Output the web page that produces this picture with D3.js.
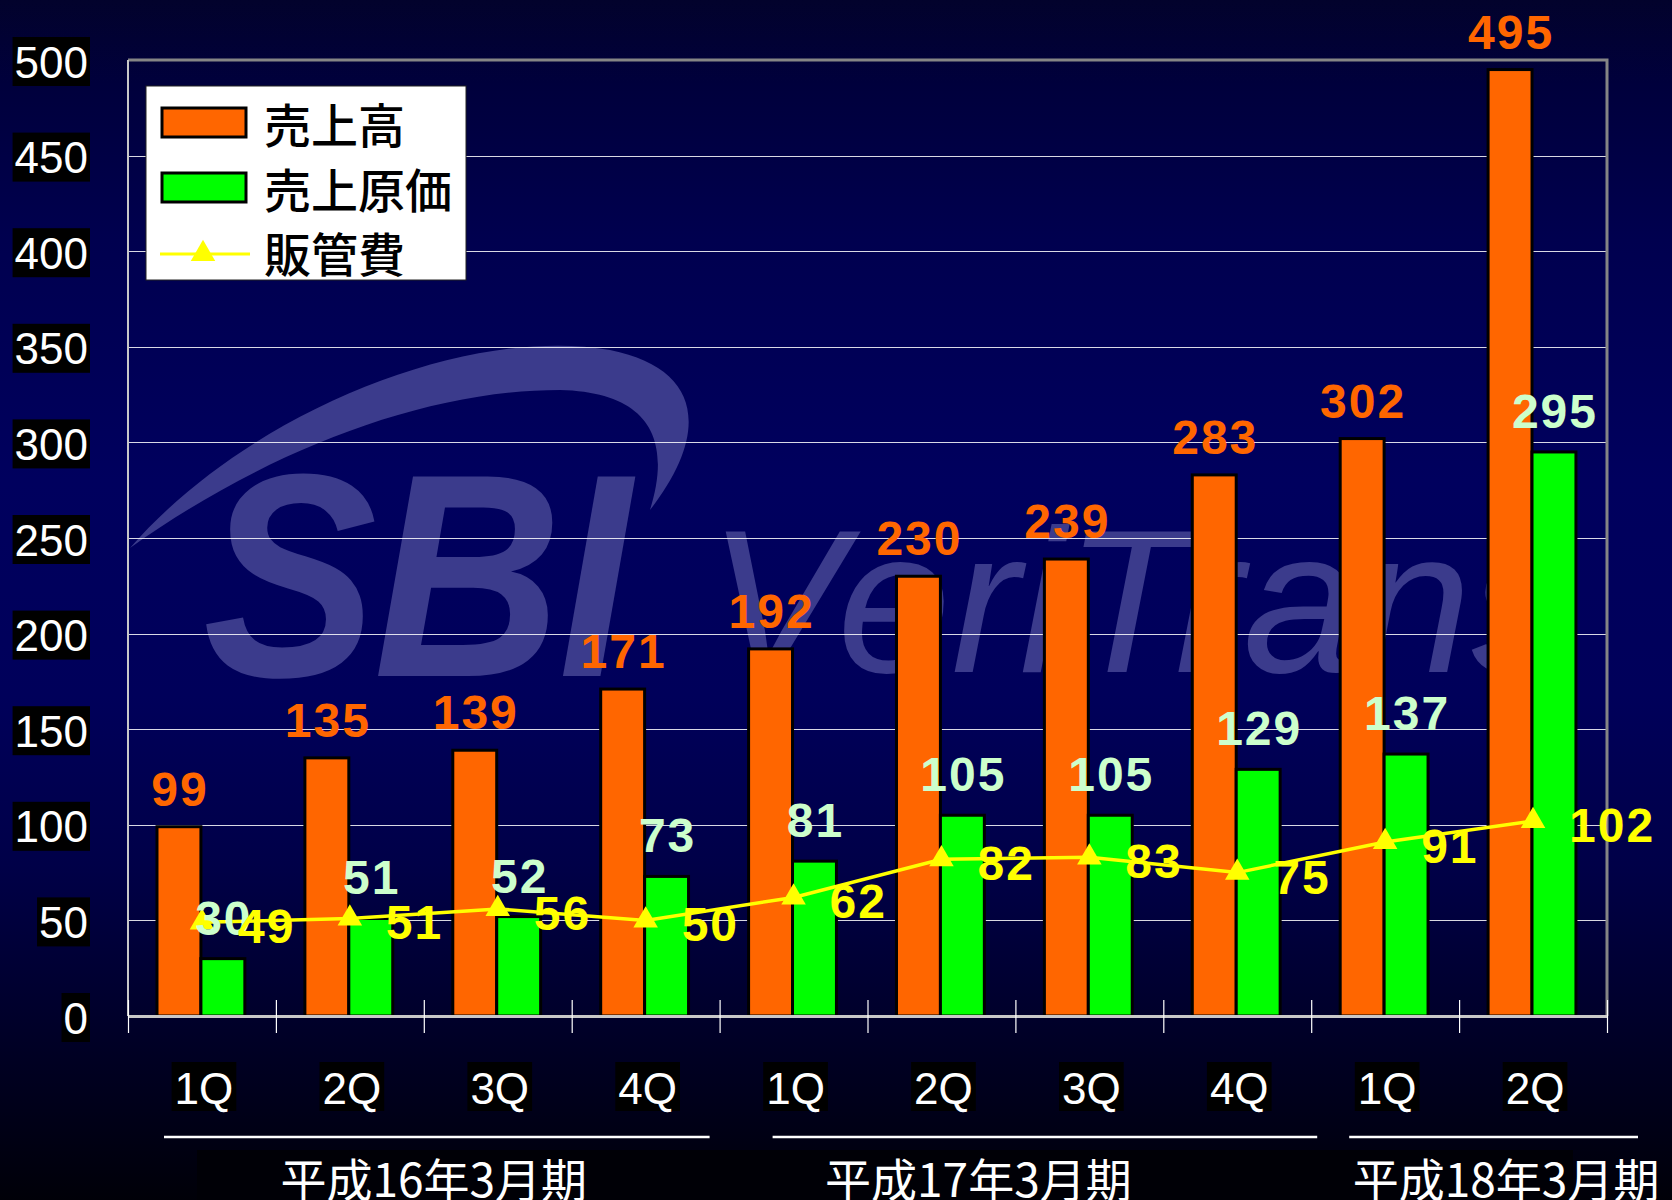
<!DOCTYPE html>
<html>
<head>
<meta charset="utf-8">
<script src="https://cdn.jsdelivr.net/npm/d3@7"></script>
<style>
  html, body { margin: 0; padding: 0; background: #000; }
  svg { display: block; }
</style>
</head>
<body>
<svg id="chart" width="1672" height="1200"></svg>
<script>
// ---------------- data ----------------
const quarters = ["1Q", "2Q", "3Q", "4Q", "1Q", "2Q", "3Q", "4Q", "1Q", "2Q"];
const sales = [99, 135, 139, 171, 192, 230, 239, 283, 302, 495];       // 売上高
const costOfSales = [30, 51, 52, 73, 81, 105, 105, 129, 137, 295];   // 売上原価
const sgaExpenses = [49, 51, 56, 50, 62, 82, 83, 75, 91, 102];        // 販管費
const periods = ["平成16年3月期", "平成17年3月期", "平成18年3月期"];
const periodFirst = [0, 4, 8];
const periodLast = [3, 7, 9];
const yTicks = [0, 50, 100, 150, 200, 250, 300, 350, 400, 450, 500];
const seriesNames = ["売上高", "売上原価", "販管費"];

// ---------------- layout ----------------
const W = 1672, H = 1200;
const plot = { left: 128, right: 1607, top: 60, bottom: 1016 };
const colors = { sales: "#ff6600", cost: "#00ff00", sga: "#ffff00", costLabel: "#ccffcc" };
const numFont = "'Liberation Sans', Arial, sans-serif";
const cjkFont = "'Noto Sans CJK JP', 'Noto Sans CJK SC', sans-serif";

const svg = d3.select("#chart");
const defs = svg.append("defs");

// background gradient
const bg = defs.append("linearGradient").attr("id", "bg").attr("x1", 0).attr("y1", 0).attr("x2", 0).attr("y2", 1);
[[0, "#02022c"], [0.07, "#00003c"], [0.2, "#00004f"], [0.4, "#00005e"], [0.58, "#00005a"],
 [0.72, "#000048"], [0.85, "#00002a"], [1, "#000008"]].forEach(([o, c]) =>
  bg.append("stop").attr("offset", o).attr("stop-color", c));
svg.append("rect").attr("width", W).attr("height", H).attr("fill", "url(#bg)");

// scales
const idx = d3.range(quarters.length);
const x = d3.scaleBand().domain(idx).range([plot.left, plot.right]).padding(0);
const bw = x.bandwidth();
const inner = d3.scaleBand().domain(["sales", "cost"]).range([bw * 0.196, bw * 0.79]).padding(0);
const y = d3.scaleLinear().domain([0, 500]).range([plot.bottom, plot.top]);

// ---------------- watermark ----------------
defs.append("clipPath").attr("id", "wmclip").append("rect")
  .attr("x", 0).attr("y", 0).attr("width", 1487).attr("height", H);
const wm = svg.append("g").attr("clip-path", "url(#wmclip)").attr("fill", "#3b3b8c");
wm.append("path")
  .attr("d", "M130,548 C250,410 470,325 610,350 C700,368 712,430 650,510 C672,440 650,392 560,390 C420,390 260,455 130,548 Z");
wm.append("text").attr("transform", "translate(203,676) scale(0.9,1)")
  .attr("font-family", numFont).attr("font-weight", "bold").attr("font-style", "italic")
  .attr("font-size", 290).attr("letter-spacing", -4).text("SBI");
wm.append("text").attr("x", 708).attr("y", 672)
  .attr("font-family", numFont).attr("font-style", "italic")
  .attr("font-size", 205).text("VeriTrans");

// ---------------- gridlines ----------------
svg.append("g").selectAll("line").data(yTicks.filter(t => t > 0 && t < 500)).join("line")
  .attr("x1", plot.left).attr("x2", plot.right)
  .attr("y1", d => Math.round(y(d)) + 0.5).attr("y2", d => Math.round(y(d)) + 0.5)
  .attr("stroke", "#ffffff").attr("stroke-opacity", 0.85).attr("stroke-width", 1.2);

// plot frame (top/right gray)
svg.append("path")
  .attr("d", `M${plot.left},${plot.top} H${plot.right} V${plot.bottom}`)
  .attr("fill", "none").attr("stroke", "#858585").attr("stroke-width", 3);

// ---------------- bars ----------------
const barG = svg.append("g");
barG.selectAll("rect.sales").data(sales).join("rect").attr("class", "sales")
  .attr("x", (d, i) => x(i) + inner("sales")).attr("width", inner.bandwidth())
  .attr("y", d => y(d)).attr("height", d => y(0) - y(d))
  .attr("fill", colors.sales).attr("stroke", "#000").attr("stroke-width", 3);
barG.selectAll("rect.cost").data(costOfSales).join("rect").attr("class", "cost")
  .attr("x", (d, i) => x(i) + inner("cost")).attr("width", inner.bandwidth())
  .attr("y", d => y(d)).attr("height", d => y(0) - y(d))
  .attr("fill", colors.cost).attr("stroke", "#000").attr("stroke-width", 3);

// ---------------- axes ----------------
svg.append("line").attr("x1", plot.left).attr("x2", plot.left).attr("y1", plot.top).attr("y2", plot.bottom)
  .attr("stroke", "#c8c8c8").attr("stroke-width", 2);
const boundary = d3.scaleLinear().domain([0, quarters.length]).range([plot.left, plot.right]);
const xAxis = svg.append("g").attr("transform", `translate(0,${plot.bottom})`)
  .call(d3.axisBottom(boundary).tickValues(d3.range(quarters.length + 1)).tickSize(17).tickSizeOuter(0).tickFormat(""));
xAxis.select(".domain").attr("stroke", "#c8c8c8").attr("stroke-width", 3);
xAxis.selectAll(".tick line").attr("stroke", "#ffffff").attr("stroke-width", 1.2).attr("y1", -16);

// y tick labels on black boxes
const yLab = svg.append("g");
yTicks.forEach(t => {
  const g = yLab.append("g");
  const txt = g.append("text").attr("x", 88).attr("y", y(t) + 2)
    .attr("text-anchor", "end").attr("dominant-baseline", "central")
    .attr("font-family", numFont).attr("font-size", 44).attr("fill", "#fff").text(t);
  const bb = txt.node().getBBox();
  g.insert("rect", "text").attr("x", bb.x - 2).attr("y", y(t) - 23).attr("width", bb.width + 4).attr("height", 49).attr("fill", "#000");
});

// x category labels on black boxes
const xLab = svg.append("g");
quarters.forEach((q, i) => {
  const cx = x(i) + bw / 2 + 2;
  const g = xLab.append("g");
  const txt = g.append("text").attr("x", cx).attr("y", 1088)
    .attr("text-anchor", "middle").attr("dominant-baseline", "central")
    .attr("font-family", numFont).attr("font-size", 44).attr("fill", "#fff").text(q);
  const bb = txt.node().getBBox();
  g.insert("rect", "text").attr("x", bb.x - 3).attr("y", 1062).attr("width", bb.width + 6).attr("height", 49).attr("fill", "#000");
});

// period grouping lines and labels
const lineAdj = [[36, -10], [53, 6], [38, 31]];
const labelAdj = [10, -37, 47];
svg.append("rect").attr("x", 197).attr("y", 1150).attr("width", 1376).attr("height", 50).attr("fill", "#000006");
periods.forEach((p, k) => {
  const x0 = x(periodFirst[k]), x1 = x(periodLast[k]) + bw;
  svg.append("line").attr("x1", x0 + lineAdj[k][0]).attr("x2", x1 + lineAdj[k][1])
    .attr("y1", 1137).attr("y2", 1137).attr("stroke", "#fff").attr("stroke-width", 2.5);
  svg.append("text").attr("x", (x0 + x1) / 2 + labelAdj[k]).attr("y", 1197)
    .attr("text-anchor", "middle").attr("font-family", cjkFont).attr("font-size", 46)
    .attr("fill", "#fff").text(p);
});

// ---------------- SG&A line ----------------
const cx = i => x(i) + bw / 2;
svg.append("path").datum(sgaExpenses)
  .attr("d", d3.line().x((d, i) => cx(i)).y(d => y(d)))
  .attr("fill", "none").attr("stroke", colors.sga).attr("stroke-width", 3.5);
const tri = d3.symbol().type(d3.symbolTriangle).size(260);
svg.append("g").selectAll("path").data(sgaExpenses).join("path")
  .attr("d", tri).attr("transform", (d, i) => `translate(${cx(i)},${y(d)})`)
  .attr("fill", colors.sga);

// ---------------- value labels ----------------
const labelFont = g => g.attr("font-family", numFont).attr("font-size", 48).attr("font-weight", "bold").attr("letter-spacing", 2);
svg.append("g").call(labelFont).selectAll("text").data(sales).join("text")
  .attr("x", (d, i) => x(i) + inner("sales") + inner.bandwidth() / 2 + 1)
  .attr("y", d => y(d) - 21).attr("text-anchor", "middle").attr("fill", colors.sales).text(d => d);
svg.append("g").call(labelFont).selectAll("text").data(costOfSales).join("text")
  .attr("x", (d, i) => x(i) + inner("cost") + inner.bandwidth() / 2 + 1)
  .attr("y", d => y(d) - 24).attr("text-anchor", "middle").attr("fill", colors.costLabel).text(d => d);
svg.append("g").call(labelFont).selectAll("text").data(sgaExpenses).join("text")
  .attr("x", (d, i) => cx(i) + 36)
  .attr("y", d => y(d) + 21).attr("text-anchor", "start").attr("fill", colors.sga).text(d => d);

// ---------------- legend ----------------
const lg = svg.append("g");
lg.append("rect").attr("x", 146).attr("y", 86).attr("width", 320).attr("height", 194)
  .attr("fill", "#fff").attr("stroke", "#222").attr("stroke-width", 1);
const rowY = [123, 188, 252];
lg.append("rect").attr("x", 162).attr("y", 108).attr("width", 84).attr("height", 29)
  .attr("fill", colors.sales).attr("stroke", "#000").attr("stroke-width", 3);
lg.append("rect").attr("x", 162).attr("y", 173).attr("width", 84).attr("height", 29)
  .attr("fill", colors.cost).attr("stroke", "#000").attr("stroke-width", 3);
lg.append("line").attr("x1", 160).attr("x2", 250).attr("y1", 254).attr("y2", 254)
  .attr("stroke", colors.sga).attr("stroke-width", 3);
lg.append("path").attr("d", tri).attr("transform", "translate(203,254)").attr("fill", colors.sga);
seriesNames.forEach((n, k) => {
  lg.append("text").attr("x", 264).attr("y", rowY[k] - 1).attr("dominant-baseline", "central")
    .attr("font-family", cjkFont).attr("font-size", 47).attr("font-weight", 500).attr("fill", "#000").text(n);
});
</script>
</body>
</html>
